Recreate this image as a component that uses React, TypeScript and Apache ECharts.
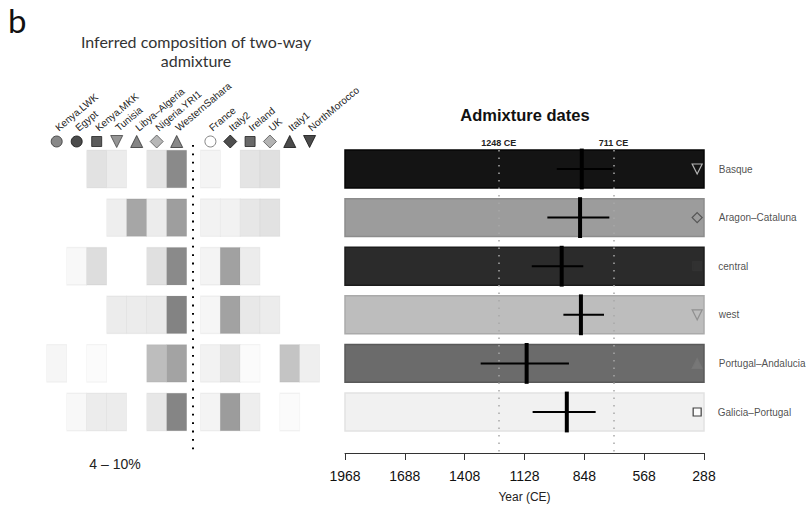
import React, { useEffect, useRef } from 'react';
import * as echarts from 'echarts';

// ---------- data ----------
const africanPops = ['Kenya.LWK', 'Egypt', 'Kenya.MKK', 'Tunisia', 'Libya–Algeria', 'Nigeria.YRI1', 'WesternSahara'];
const europeanPops = ['France', 'Italy2', 'Ireland', 'UK', 'Italy1', 'NorthMorocco'];
const targets = ['Basque', 'Aragon–Cataluna', 'central', 'west', 'Portugal–Andalucia', 'Galicia–Portugal'];

// inferred contribution weights (0-1) of each source to each target
const africanWeights = [
  [0, 0, 0.2, 0.13, 0, 0.19, 0.82],
  [0, 0, 0, 0.12, 0.62, 0.13, 0.68],
  [0, 0.05, 0.24, 0, 0, 0.22, 0.82],
  [0, 0, 0, 0.13, 0.13, 0.15, 0.87],
  [0.06, 0, 0.03, 0, 0, 0.46, 0.64],
  [0, 0.05, 0.13, 0.13, 0, 0.17, 0.85],
];
const europeanWeights = [
  [0.08, 0, 0.19, 0.22, 0, 0],
  [0.09, 0.09, 0.17, 0.2, 0, 0],
  [0.08, 0.66, 0.13, 0, 0, 0],
  [0.06, 0.65, 0.16, 0.13, 0, 0],
  [0.09, 0.2, 0.03, 0, 0.41, 0.11],
  [0.08, 0.69, 0.12, 0, 0.03, 0],
];

// admixture dates (year CE)
const dateEstimate = [860, 868, 954, 864, 1118, 930];
const dateOlder = [977, 1021, 1094, 946, 1333, 1090];
const dateYounger = [715, 731, 853, 756, 920, 795];

const eventYears = [1248, 711];
const eventLabels = ['1248 CE', '711 CE'];

const yearMin = 288;
const yearMax = 1968;
const yearStep = 280;
const markerYear = 320;

// ---------- styles ----------
const africanMarkers = [
  { symbol: 'circle', rotate: 0, size: 11, fill: '#6a6a6a', stroke: '#333' },
  { symbol: 'circle', rotate: 0, size: 11, fill: '#1e1e1e', stroke: '#111' },
  { symbol: 'rect', rotate: 0, size: 10, fill: '#333', stroke: '#222' },
  { symbol: 'triangle', rotate: 180, size: 12, fill: '#7a7a7a', stroke: '#444' },
  { symbol: 'triangle', rotate: 0, size: 12, fill: '#666', stroke: '#333' },
  { symbol: 'diamond', rotate: 0, size: 13, fill: '#a5a5a5', stroke: '#555' },
  { symbol: 'triangle', rotate: 0, size: 12, fill: '#6a6a6a', stroke: '#333' },
];
const europeanMarkers = [
  { symbol: 'circle', rotate: 0, size: 11, fill: '#ffffff', stroke: '#666' },
  { symbol: 'diamond', rotate: 0, size: 13, fill: '#222', stroke: '#111' },
  { symbol: 'rect', rotate: 0, size: 10, fill: '#444', stroke: '#222' },
  { symbol: 'diamond', rotate: 0, size: 13, fill: '#a0a0a0', stroke: '#555' },
  { symbol: 'triangle', rotate: 0, size: 12, fill: '#1e1e1e', stroke: '#111' },
  { symbol: 'triangle', rotate: 180, size: 12, fill: '#1e1e1e', stroke: '#111' },
];
const targetMarkers = [
  { symbol: 'triangle', rotate: 180, size: 10, fill: 'transparent', stroke: '#dddddd' },
  { symbol: 'diamond', rotate: 0, size: 10, fill: 'transparent', stroke: '#444' },
  { symbol: 'rect', rotate: 0, size: 9, fill: '#333', stroke: '#333' },
  { symbol: 'triangle', rotate: 180, size: 10, fill: 'transparent', stroke: '#858585' },
  { symbol: 'triangle', rotate: 0, size: 10, fill: '#7a7a7a', stroke: '#777' },
  { symbol: 'rect', rotate: 0, size: 8, fill: '#ffffff', stroke: '#111' },
];
const barShades = ['#141414', '#9c9c9c', '#2b2b2b', '#bdbdbd', '#6b6b6b', '#f1f1f1'];
const barEdges = ['#050505', '#8c8c8c', '#1c1c1c', '#aaaaaa', '#595959', '#e2e2e2'];

const FONT = '"Liberation Sans", Arial, sans-serif';
const TITLE_FONT = 'Lato, sans-serif';
const rowPx = 48.6;
const leftTop = 133;
const rightTop = 150;
const plotBottom = 453;
const leftYMin = -(169 - leftTop) / rowPx;
const rightYMin = -(169 - rightTop) / rowPx;
const yMax = (plotBottom - 169) / rowPx;
const symbolRow = -(169 - 141.5) / rowPx;

function cells(weights: number[][]) {
  const out: number[][] = [];
  weights.forEach((row, r) => row.forEach((v, c) => { if (v > 0) out.push([c, r, v]); }));
  return out;
}
function markerData(markers: any[]) {
  return markers.map((m, i) => ({
    value: [i, symbolRow],
    symbol: m.symbol,
    symbolRotate: m.rotate,
    symbolSize: m.size,
    itemStyle: { color: m.fill, borderColor: m.stroke, borderWidth: 1 },
  }));
}

export default function App() {
  const ref = useRef<HTMLDivElement>(null);
  useEffect(() => {
    if (!ref.current) return;
    const chart = echarts.init(ref.current, undefined, { renderer: 'svg' });
    const topAxis = (data: string[], gridIndex: number) => ({
      type: 'category', gridIndex, position: 'top', data,
      axisLine: { show: false }, axisTick: { show: false }, splitLine: { show: false },
      axisLabel: { rotate: 40, fontSize: 10, margin: 4, color: '#222', interval: 0, fontFamily: FONT },
    });
    const hiddenY = (gridIndex: number, min: number) => ({
      type: 'value', gridIndex, inverse: true, min, max: yMax, show: false,
    });
    const option: any = {
      animation: false,
      grid: [
        { left: 46.7, top: leftTop, width: 140, height: plotBottom - leftTop, outerBoundsMode: 'none', containLabel: false },
        { left: 200.5, top: leftTop, width: 119, height: plotBottom - leftTop, outerBoundsMode: 'none', containLabel: false },
        { left: 345, top: rightTop, width: 359, height: plotBottom - rightTop, outerBoundsMode: 'none', containLabel: false },
      ],
      xAxis: [
        topAxis(africanPops, 0),
        topAxis(europeanPops, 1),
        {
          type: 'value', gridIndex: 2, inverse: true, min: yearMin, max: yearMax, interval: yearStep,
          axisLine: { show: true, onZero: false, lineStyle: { color: '#333', width: 1 } },
          axisTick: { show: true, length: 7, lineStyle: { color: '#333' } },
          splitLine: { show: false },
          axisLabel: {
            fontSize: 14, color: '#111', margin: 16, fontFamily: FONT, showMinLabel: true, showMaxLabel: true,
            formatter: (v: number) => String(v),
          },
          name: 'Year (CE)', nameLocation: 'middle', nameGap: 38,
          nameTextStyle: { fontSize: 12, color: '#222', fontFamily: FONT },
        },
      ],
      yAxis: [hiddenY(0, leftYMin), hiddenY(1, leftYMin), hiddenY(2, rightYMin)],
      visualMap: {
        type: 'continuous', show: false, seriesIndex: [0, 2], dimension: 2, min: 0, max: 1,
        inRange: { color: ['#ffffff', '#707070'] },
      },
      graphic: [
        { type: 'text', x: 8, y: 3, style: { text: 'b', fontSize: 33, fontFamily: TITLE_FONT, fill: '#111' } },
        { type: 'text', x: 196, y: 41, style: { text: 'Inferred composition of two-way', fontSize: 16, fontFamily: TITLE_FONT, fill: '#333', textAlign: 'center', textVerticalAlign: 'middle' } },
        { type: 'text', x: 196, y: 60, style: { text: 'admixture', fontSize: 16, fontFamily: TITLE_FONT, fill: '#333', textAlign: 'center', textVerticalAlign: 'middle' } },
        { type: 'text', x: 525, y: 115, style: { text: 'Admixture dates', fontSize: 16.5, fontWeight: 'bold', fontFamily: FONT, fill: '#111', textAlign: 'center', textVerticalAlign: 'middle' } },
        { type: 'text', x: 115, y: 464, style: { text: '4 – 10%', fontSize: 14, fontFamily: FONT, fill: '#222', textAlign: 'center', textVerticalAlign: 'middle' } },
        { type: 'line', shape: { x1: 193, y1: 145, x2: 193, y2: 454 }, style: { stroke: '#000', lineWidth: 2, lineDash: [1.8, 6.6] } },
      ],
      series: [
        {
          type: 'scatter', xAxisIndex: 0, yAxisIndex: 0, symbol: 'rect', symbolSize: [20, 37.5],
          data: cells(africanWeights),
          itemStyle: { borderColor: 'rgba(0,0,0,0.045)', borderWidth: 1, opacity: 1 },
          silent: true,
        },
        { type: 'scatter', xAxisIndex: 0, yAxisIndex: 0, data: markerData(africanMarkers), silent: true },
        {
          type: 'scatter', xAxisIndex: 1, yAxisIndex: 1, symbol: 'rect', symbolSize: [20, 37.5],
          data: cells(europeanWeights),
          itemStyle: { borderColor: 'rgba(0,0,0,0.045)', borderWidth: 1, opacity: 1 },
          silent: true,
        },
        { type: 'scatter', xAxisIndex: 1, yAxisIndex: 1, data: markerData(europeanMarkers), silent: true },
        {
          type: 'custom', xAxisIndex: 2, yAxisIndex: 2, silent: true,
          data: targets.map((_, i) => [yearMax, i, yearMin]),
          encode: { x: [0, 2], y: 1 },
          renderItem: (params: any, api: any) => {
            const row = api.value(1);
            const a = api.coord([api.value(0), row]);
            const b = api.coord([api.value(2), row]);
            const h = api.size([0, 0.78])[1];
            const i = params.dataIndex;
            return {
              type: 'rect',
              shape: { x: Math.min(a[0], b[0]), y: a[1] - h / 2, width: Math.abs(b[0] - a[0]), height: h },
              style: { fill: barShades[i], stroke: barEdges[i], lineWidth: 1.5 },
            };
          },
        },
        {
          type: 'custom', xAxisIndex: 2, yAxisIndex: 2, silent: true, z: 4,
          data: targets.map((_, i) => [dateEstimate[i], dateOlder[i], dateYounger[i], i]),
          encode: { x: [0, 1, 2], y: 3 },
          renderItem: (_params: any, api: any) => {
            const row = api.value(3);
            const c = api.coord([api.value(0), row]);
            const l = api.coord([api.value(1), row]);
            const r = api.coord([api.value(2), row]);
            const half = api.size([0, 0.42])[1];
            return {
              type: 'group',
              children: [
                { type: 'line', shape: { x1: l[0], y1: c[1], x2: r[0], y2: c[1] }, style: { stroke: '#000', lineWidth: 2 } },
                { type: 'line', shape: { x1: c[0], y1: c[1] - half, x2: c[0], y2: c[1] + half }, style: { stroke: '#000', lineWidth: 4 } },
              ],
            };
          },
          markLine: {
            silent: true, symbol: ['none', 'none'],
            lineStyle: { type: [1.5, 6], color: '#a8a8a8', width: 1.5 },
            label: { show: true, position: 'start', fontSize: 9, fontWeight: 'bold', color: '#222', fontFamily: FONT, distance: 3 },
            data: eventYears.map((yr, i) => [
              { coord: [yr, rightYMin], label: { formatter: eventLabels[i] } },
              { coord: [yr, yMax] },
            ]),
          },
        },
        {
          type: 'scatter', xAxisIndex: 2, yAxisIndex: 2, silent: true, z: 5,
          data: targetMarkers.map((m, i) => ({
            value: [markerYear, i],
            symbol: m.symbol, symbolRotate: m.rotate, symbolSize: m.size,
            itemStyle: { color: m.fill, borderColor: m.stroke, borderWidth: 1.2 },
            label: { show: true, formatter: targets[i], position: 'right', distance: 16, fontSize: 10, color: '#222', fontFamily: FONT },
          })),
        },
      ],
    };
    chart.setOption(option);
    return () => chart.dispose();
  }, []);
  return <div ref={ref} style={{ position: 'fixed', left: 0, top: 0, width: 809, height: 505, background: '#fff' }} />;
}
